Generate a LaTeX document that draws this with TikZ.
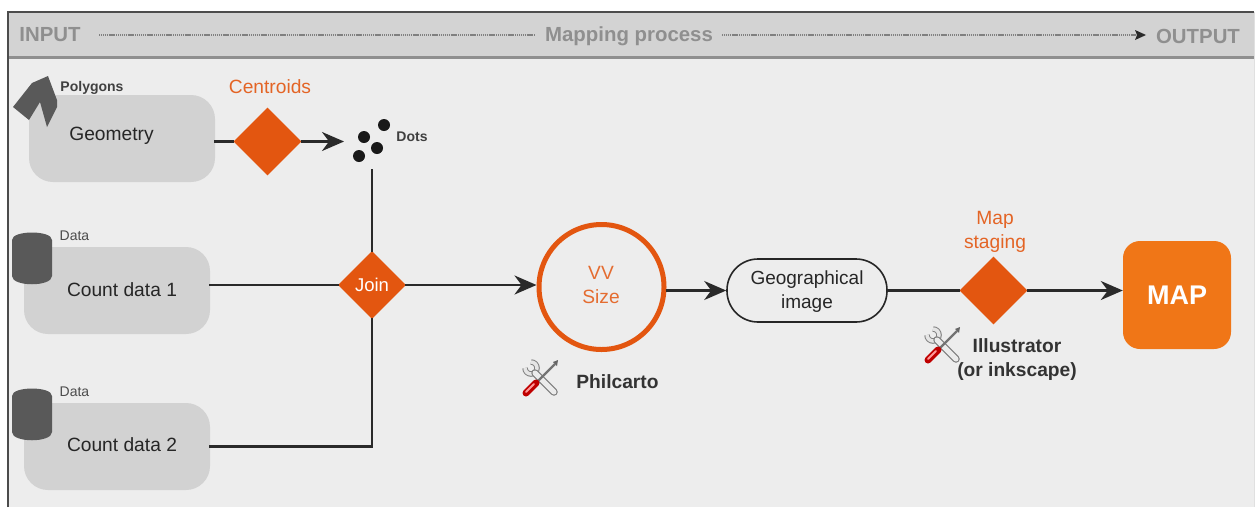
\documentclass[tikz,border=0pt]{standalone}
\usepackage{fontspec}
\setmainfont{Liberation Sans}
\usetikzlibrary{arrows.meta,shapes.geometric}
\definecolor{bgc}{HTML}{EDEDED}
\definecolor{headc}{HTML}{D3D3D3}
\definecolor{boxc}{HTML}{D2D2D2}
\definecolor{darkc}{HTML}{595959}
\definecolor{ornc}{HTML}{E35610}
\definecolor{mapc}{HTML}{F07617}
\definecolor{linec}{HTML}{2A2A2A}
\definecolor{headtxt}{HTML}{8F8F8F}
\tikzset{
  fs/.style={font=\fontsize{#1}{24}\selectfont},
  greybox/.style={fill=boxc,rounded corners=24pt,minimum width=186pt,minimum height=87pt,inner sep=0pt},
  boxtext/.style={fs=19.2,inner sep=0pt,text=black!85},
  flow/.style={draw=linec,line width=2.2pt,shorten <=-1pt,shorten >=-1pt},
  arr/.style={draw=linec,line width=2.2pt,shorten <=-1pt,-{Stealth[length=22pt,width=19pt,inset=7pt]}},
  odiam/.style={diamond,fill=ornc,minimum width=68pt,minimum height=68pt,inner sep=0pt,aspect=1},
  otext/.style={text=ornc,fs=19.2,align=center,inner sep=0pt,text opacity=.9},
  small/.style={fs=14,inner sep=0pt,text=black!70},
  smallb/.style={inner sep=0pt,text=black!75,font=\bfseries\fontsize{14}{16}\selectfont},
  boldlab/.style={inner sep=0pt,font=\bfseries\fontsize{19.2}{24}\selectfont,text=black!80,align=center},
  headt/.style={inner sep=0pt,text=headtxt,font=\bfseries\fontsize{20.4}{24}\selectfont},
  headl/.style={draw=black!50,line width=2pt,dash pattern=on 1.2pt off 0.7pt},
  dot/.style={circle,fill=black!90,minimum size=12pt,inner sep=0pt},
  wicon/.pic={
    % wrench
    \draw[line width=5.5pt,draw=black!50] (-10,-16) arc (270:540:6);
    \draw[line width=3.5pt,draw=black!10] (-10,-16) arc (270:540:6);
    \draw[line width=7.5pt,draw=black!50,line cap=round] (-6,-5) -- (13,14);
    \draw[line width=5pt,draw=black!8,line cap=round] (-6,-5) -- (13,14);
    % screwdriver
    \draw[line width=2.4pt,draw=black!55] (-3,3) -- (14,-14);
    \fill[black!60] (12,-16) -- (17,-18) -- (16,-12) -- cycle;
    \draw[line width=7pt,draw=red!75!black,line cap=round] (-15,15) -- (-5,5);
    \draw[line width=2pt,draw=red!40!white,line cap=round] (-15,14) -- (-7,6);
  }
}
\begin{document}
\begin{tikzpicture}[x=1pt,y=-1pt]
\useasboundingbox (0,0) rectangle (1255,507);
\fill[white] (0,0) rectangle (1255,507);
% frame
\fill[bgc] (8,12) rectangle (1254,507);
\fill[headc] (8,12) rectangle (1254,57);
\draw[draw=headtxt,line width=3pt] (8,57) -- (1254,57);
\draw[draw=black!70,line width=1.5pt] (8,507) -- (8,12) -- (1254,12);
\draw[draw=black!12,line width=1pt] (1254,12) -- (1254,507);
% header
\node[headt] (inp) at (50,35) {INPUT};
\node[headt] (mp) at (629,36) {Mapping process};
\node[headt] (outp) at (1198,36) {OUTPUT};
\coordinate (hs) at (99,35);
\coordinate (he) at (535,35);
\coordinate (hf) at (722,35);
\coordinate (hg) at (1136,35);
\draw[headl] (hs) -- (he);
\draw[headl] (hf) -- (hg);
\fill[linec] (1135,30) -- (1146,35) -- (1135,40) -- (1137,35) -- cycle;
% grey boxes
\node[greybox] (geo) at (122,138.5) {};
\node[greybox] (c1) at (117,290.5) {};
\node[greybox] (c2) at (117,446.5) {};
\node[boxtext] (geot) at (111.5,136) {Geometry};
\node[boxtext] (c1t) at (122,290) {Count data 1};
\node[boxtext] (c2t) at (122,445) {Count data 2};
% input glyphs
\fill[darkc] (13,107) -- (32,83) -- (48,76) -- (57,100) -- (57,107) -- (47,127) -- (40,102) -- (29,120) -- cycle;
\foreach \yy in {232,388}{
  \fill[darkc] (12,\yy+8) .. controls (12,\yy-2) and (52,\yy-2) .. (52,\yy+8)
     -- (52,\yy+44) .. controls (52,\yy+55) and (12,\yy+55) .. (12,\yy+44) -- cycle;
}
\node[smallb] (polyl) at (92,88) {Polygons};
\node[small] (d1l) at (74.5,236) {Data};
\node[small] (d2l) at (74.5,392) {Data};
% centroids
\node[odiam] (cen) at (267.5,141.5) {};
\node[otext] (cenl) at (270,87) {Centroids};
% dots
\node[dot] (d1) at (364,137) {};
\node[dot] (d2) at (384,125) {};
\node[dot] (d3) at (377,148) {};
\node[dot] (d4) at (359,156) {};
\node[smallb] (dotsl) at (412,136.5) {Dots};
\coordinate (dotsin) at (344,141.5);
\coordinate (dotsout) at (372,170);
% join
\node[odiam,text=white,fs=18.5] (join) at (372,285) {Join};
% circle
\node[circle,draw=ornc,line width=5pt,minimum size=125pt,inner sep=0pt] (vv) at (601.5,287) {};
\node[otext,text opacity=.85] (vvt) at (601,285) {VV\\Size};
% geo image
\node[draw=black!85,line width=1.6pt,rounded corners=31pt,minimum width=160pt,minimum height=63pt,inner sep=0pt,fs=18.8,align=center,fill=bgc,text=black!85] (gi) at (807,290.5) {};
\node[inner sep=0pt,fs=19,align=center,text=black!85] (git) at (807,292) {Geographical\\image};
% map staging
\node[odiam] (ms) at (993.5,290.5) {};
\node[otext] (msl) at (995,232) {Map\\staging};
% map
\node[fill=mapc,rounded corners=17pt,minimum width=108pt,minimum height=108pt,inner sep=0pt,text=white,font=\bfseries\fontsize{27}{30}\selectfont] (mapn) at (1177,295) {MAP};
% connectors
\draw[flow] (geo.east |- cen.west) -- (cen.west);
\draw[arr] (cen.east) -- (dotsin);
\draw[flow] (dotsout) -- (join.north);
\draw[flow] (c1.east |- join.west) -- (join.west);
\draw[flow] (c2.east) -- (372,446.5) -- (join.south);
\draw[arr] (join.east) -- (vv.west |- join.east);
\draw[arr] (vv.east |- gi.west) -- (gi.west);
\draw[flow] (gi.east) -- (ms.west);
\draw[arr] (ms.east) -- (mapn.west |- ms.east);
% tools
\pic at (541,378) {wicon};
\pic at (943,345) {wicon};
\node[boldlab] (phil) at (617.5,382) {Philcarto};
\node[boldlab] (ill) at (1017,359.5) {Illustrator\\(or inkscape)};
\end{tikzpicture}
\end{document}
